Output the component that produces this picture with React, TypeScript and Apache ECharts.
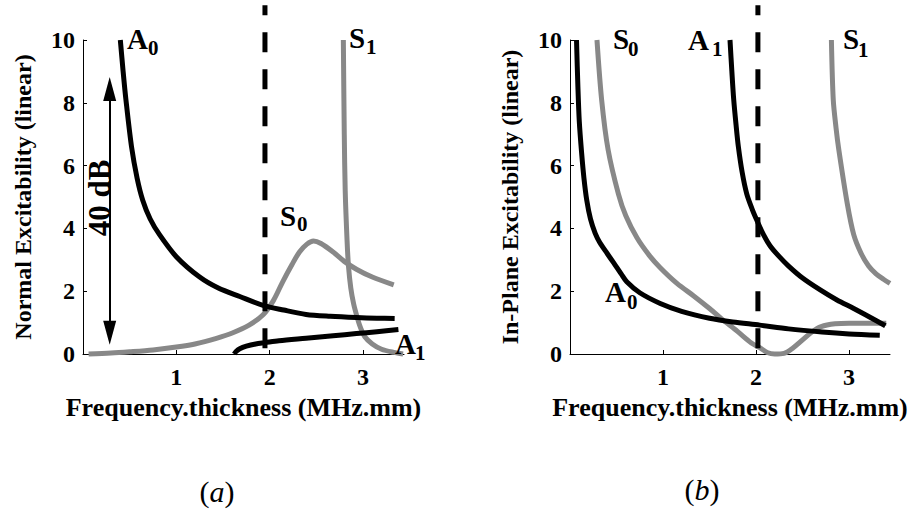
import React, { useEffect, useRef } from "react";
import * as echarts from "echarts";

// ---------- axis ticks ----------
const X_TICKS = [1, 2, 3];
const Y_TICKS = [0, 2, 4, 6, 8, 10];
const X_MAX = 3.44;
const Y_MAX = 10;

// ---------- panel (a): normal excitability ----------
const aA0X = [0.4, 0.43, 0.46, 0.52, 0.58, 0.64, 0.72, 0.82, 1.0, 1.25, 1.45, 1.68, 1.93, 2.15, 2.39, 2.65, 2.93, 3.15, 3.34];
const aA0Y = [10, 9.0, 8.1, 6.6, 5.6, 4.9, 4.3, 3.8, 3.1, 2.45, 2.1, 1.83, 1.55, 1.4, 1.26, 1.2, 1.16, 1.14, 1.13];

const aS0X = [0.06, 0.3, 0.5, 0.75, 1.0, 1.2, 1.43, 1.6, 1.78, 1.93, 2.04, 2.14, 2.24, 2.32, 2.4, 2.47, 2.55, 2.68, 2.8, 2.93, 3.1, 3.33];
const aS0Y = [0.0, 0.03, 0.07, 0.13, 0.22, 0.32, 0.5, 0.67, 0.92, 1.25, 1.7, 2.3, 2.85, 3.25, 3.5, 3.6, 3.52, 3.25, 2.95, 2.7, 2.45, 2.2];

const aS1X = [2.79, 2.8, 2.81, 2.83, 2.845, 2.87, 2.9, 2.94, 2.97, 3.02, 3.1, 3.2, 3.33, 3.43];
const aS1Y = [10, 7.0, 5.2, 3.6, 2.8, 2.1, 1.6, 1.15, 0.87, 0.55, 0.32, 0.15, 0.05, 0.0];

const aA1X = [1.62, 1.64, 1.68, 1.75, 1.85, 1.95, 2.1, 2.39, 2.68, 2.93, 3.15, 3.38];
const aA1Y = [0.0, 0.08, 0.17, 0.25, 0.32, 0.36, 0.42, 0.5, 0.58, 0.65, 0.71, 0.78];

const aDashX = 1.95;
const aArrowX = 0.286;
const aArrowY = [0.68, 8.44];

// ---------- panel (b): in-plane excitability ----------
const bA0X = [0.07, 0.085, 0.1, 0.125, 0.15, 0.18, 0.22, 0.27, 0.32, 0.4, 0.47, 0.55, 0.61, 0.75, 0.97, 1.2, 1.5, 1.75, 2.04, 2.35, 2.71, 3.0, 3.33];
const bA0Y = [10, 8.5, 7.4, 6.4, 5.6, 4.9, 4.3, 3.85, 3.55, 3.2, 2.9, 2.55, 2.3, 1.95, 1.61, 1.36, 1.14, 1.02, 0.92, 0.8, 0.7, 0.64, 0.6];

const bS0X = [0.29, 0.34, 0.41, 0.52, 0.6, 0.72, 0.85, 0.97, 1.15, 1.33, 1.5, 1.63, 1.8, 1.95, 2.04, 2.12, 2.2, 2.3, 2.4, 2.5, 2.6, 2.7, 2.85, 3.0, 3.4];
const bS0Y = [10, 8.1, 6.5, 5.1, 4.4, 3.7, 3.15, 2.75, 2.25, 1.85, 1.45, 1.12, 0.72, 0.35, 0.2, 0.05, 0.0, 0.02, 0.2, 0.45, 0.7, 0.87, 0.96, 0.98, 0.98];

const bA1X = [1.72, 1.74, 1.76, 1.785, 1.81, 1.85, 1.9, 1.96, 2.01, 2.08, 2.15, 2.25, 2.35, 2.5, 2.69, 2.87, 3.05, 3.22, 3.39];
const bA1Y = [10, 9.0, 8.1, 7.3, 6.6, 5.8, 5.1, 4.6, 4.25, 3.8, 3.45, 3.1, 2.8, 2.42, 2.04, 1.72, 1.45, 1.18, 0.9];

const bS1X = [2.81, 2.83, 2.86, 2.89, 2.98, 3.05, 3.13, 3.21, 3.29, 3.37, 3.44];
const bS1Y = [10, 8.1, 7.2, 6.5, 4.8, 3.8, 3.2, 2.8, 2.55, 2.38, 2.25];

const bDashX = 2.02;

const DASH_Y = [11.11, 0.14];

const X_TITLE = "Frequency.thickness (MHz.mm)";
const Y_TITLE_A = "Normal Excitability (linear)";
const Y_TITLE_B = "In-Plane Excitability (linear)";

const FONT = "'Liberation Serif', 'Times New Roman', serif";
const BLACK = "#000000";
const GRAY = "#888888";

const zip = (xs: number[], ys: number[]) => xs.map((x, i) => [x, ys[i]]);

function makeXAxis(gridIndex: number) {
  return {
    type: "value",
    gridIndex,
    min: 0,
    max: X_MAX,
    interval: 1,
    axisLine: { show: true, lineStyle: { color: BLACK, width: 1 } },
    axisTick: { show: true, inside: true, length: 4, customValues: X_TICKS, lineStyle: { color: BLACK, width: 1 } },
    axisLabel: {
      customValues: X_TICKS,
      fontSize: 24,
      fontWeight: "bold",
      fontFamily: FONT,
      color: BLACK,
      margin: 11,
    },
    splitLine: { show: false },
    name: X_TITLE,
    nameLocation: "middle",
    nameGap: 40,
    nameTextStyle: { fontSize: 26, fontWeight: "bold", fontFamily: FONT, color: BLACK },
  };
}

function makeYAxis(gridIndex: number, title: string) {
  return {
    type: "value",
    gridIndex,
    min: 0,
    max: Y_MAX,
    interval: 2,
    axisLine: { show: true, lineStyle: { color: BLACK, width: 1 } },
    axisTick: { show: true, inside: true, length: 4, customValues: Y_TICKS, lineStyle: { color: BLACK, width: 1 } },
    axisLabel: {
      customValues: Y_TICKS,
      fontSize: 24,
      fontWeight: "bold",
      fontFamily: FONT,
      color: BLACK,
      margin: 8,
    },
    splitLine: { show: false },
    name: title,
    nameLocation: "middle",
    nameGap: 48,
    nameTextStyle: { fontSize: 24, fontWeight: "bold", fontFamily: FONT, color: BLACK },
  };
}

function curve(name: string, gi: number, xs: number[], ys: number[], color: string, extra: any = {}) {
  return {
    name,
    type: "line",
    xAxisIndex: gi,
    yAxisIndex: gi,
    data: zip(xs, ys),
    showSymbol: false,
    symbol: "none",
    smooth: 0.3,
    clip: false,
    lineStyle: { color, width: 5, cap: "butt", join: "round" },
    z: 2,
    ...extra,
  };
}

function dashed(gi: number, x: number) {
  return {
    name: "dash" + gi,
    type: "line",
    xAxisIndex: gi,
    yAxisIndex: gi,
    data: [[x, DASH_Y[0]], [x, DASH_Y[1]]],
    symbol: "none",
    showSymbol: false,
    clip: false,
    lineStyle: { color: BLACK, width: 5, type: [20, 17], dashOffset: 10, cap: "butt" },
    z: 5,
  };
}

function modeLabel(main: string, sub: string, x: number, y: number, subX: number, subY: number) {
  const common = { fill: BLACK, fontFamily: FONT, fontWeight: "bold", align: "left", textAlign: "left", verticalAlign: "middle", textVerticalAlign: "middle" };
  return [
    { type: "text", x, y, z: 10, style: { ...common, text: main, fontSize: 29 } },
    { type: "text", x: subX, y: subY, z: 10, style: { ...common, text: sub, fontSize: 21 } },
  ];
}

function caption(letter: string, cx: number, cy: number) {
  return {
    type: "text",
    x: cx,
    y: cy,
    z: 10,
    style: {
      text: "({i|" + letter + "})",
      fill: BLACK,
      fontFamily: FONT,
      fontSize: 30,
      fontWeight: "normal",
      align: "center",
      textAlign: "center",
      verticalAlign: "middle",
      textVerticalAlign: "middle",
      rich: { i: { fontStyle: "italic", fontFamily: FONT, fontSize: 30, fill: BLACK } },
    },
  };
}

export default function App() {
  const ref = useRef<HTMLDivElement>(null);

  useEffect(() => {
    document.body.style.margin = "0";
    if (!ref.current) return;
    const chart = echarts.init(ref.current, null, { renderer: "svg" });

    const option: any = {
      animation: false,
      backgroundColor: "#ffffff",
      textStyle: { fontFamily: FONT, color: BLACK },
      grid: [
        { left: 83, top: 40, width: 321, height: 314, containLabel: false, outerBoundsMode: "none" },
        { left: 570, top: 40, width: 320, height: 314, containLabel: false, outerBoundsMode: "none" },
      ],
      xAxis: [makeXAxis(0), makeXAxis(1)],
      yAxis: [makeYAxis(0, Y_TITLE_A), makeYAxis(1, Y_TITLE_B)],
      series: [
        curve("S0 (a)", 0, aS0X, aS0Y, GRAY),
        curve("S1 (a)", 0, aS1X, aS1Y, GRAY),
        curve("A0 (a)", 0, aA0X, aA0Y, BLACK, {
          markLine: {
            silent: true,
            symbol: ["triangle", "triangle"],
            symbolSize: [13, 24],
            label: { show: false },
            lineStyle: { color: BLACK, width: 2, type: "solid" },
            data: [[{ coord: [aArrowX, aArrowY[0]] }, { coord: [aArrowX, aArrowY[1]] }]],
          },
        }),
        curve("A1 (a)", 0, aA1X, aA1Y, BLACK),
        dashed(0, aDashX),
        curve("S0 (b)", 1, bS0X, bS0Y, GRAY),
        curve("S1 (b)", 1, bS1X, bS1Y, GRAY),
        curve("A0 (b)", 1, bA0X, bA0Y, BLACK),
        curve("A1 (b)", 1, bA1X, bA1Y, BLACK),
        dashed(1, bDashX),
      ],
      graphic: [
        ...modeLabel("A", "0", 127, 39, 148, 47.5),
        ...modeLabel("S", "1", 349, 37.5, 366, 46.5),
        ...modeLabel("S", "0", 280, 216, 297, 224),
        ...modeLabel("A", "1", 395, 344, 415, 352.5),
        ...modeLabel("S", "0", 613, 39, 628, 49),
        ...modeLabel("A", "1", 688, 40, 712, 48.5),
        ...modeLabel("S", "1", 843, 39, 858, 49.5),
        ...modeLabel("A", "0", 605, 291.5, 627, 301.5),
        {
          type: "text",
          x: 99,
          y: 198,
          rotation: Math.PI / 2,
          z: 10,
          style: {
            text: "40 dB",
            fill: BLACK,
            fontFamily: FONT,
            fontWeight: "bold",
            fontSize: 31,
            align: "center",
            textAlign: "center",
            verticalAlign: "middle",
            textVerticalAlign: "middle",
          },
        },
        caption("a", 217, 491),
        caption("b", 702, 489),
      ],
    };

    chart.setOption(option);
    return () => chart.dispose();
  }, []);

  return <div ref={ref} style={{ width: 915, height: 511 }} />;
}
